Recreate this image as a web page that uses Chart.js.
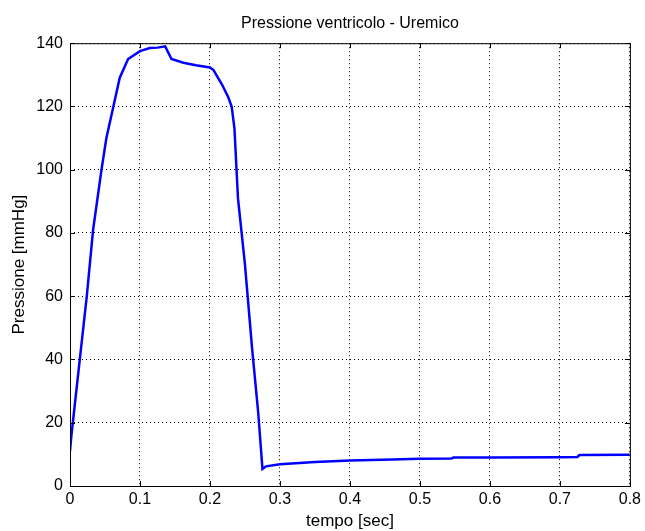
<!DOCTYPE html>
<html>
<head>
<meta charset="utf-8">
<script src="https://cdn.jsdelivr.net/npm/chart.js@4.4.0/dist/chart.umd.min.js"></script>
<style>
  html, body { margin: 0; padding: 0; background: #fff; }
  #wrap { width: 645px; height: 531px; position: relative; }
</style>
</head>
<body>
<div id="wrap"><canvas id="chart"></canvas></div>
<script>
// ventricular pressure
const tempo = [0, 0.002, 0.004, 0.014, 0.024, 0.033, 0.045, 0.052, 0.062, 0.071, 0.083, 0.1, 0.114, 0.125, 0.136, 0.145,
  0.162, 0.18, 0.2, 0.205, 0.217, 0.226, 0.231, 0.235, 0.24, 0.25, 0.26, 0.269, 0.275, 0.28, 0.3, 0.35, 0.4, 0.46,
  0.5, 0.545, 0.548, 0.6, 0.7, 0.725, 0.728, 0.8];
const pressione = [11, 16, 20, 40, 60, 81, 100, 110, 120, 129, 135, 137.5, 138.5, 138.6, 139, 135,
  133.8, 133, 132.3, 131.5, 127, 123, 120, 113, 91, 70, 44, 23, 5.4, 6.2, 6.9, 7.6, 8.1, 8.4,
  8.6, 8.7, 9.0, 9.0, 9.1, 9.2, 9.8, 9.9];
const xTicks = [0, 0.1, 0.2, 0.3, 0.4, 0.5, 0.6, 0.7, 0.8];
const yTicks = [0, 20, 40, 60, 80, 100, 120, 140];

const fam = "'Liberation Sans', Arial, sans-serif";
const tickFont = { family: fam, size: 16 };
const labelFont = { family: fam, size: 17, lineHeight: 1 };

// box around the plot + inward ticks like matlab
const boxPlugin = {
  id: 'box',
  afterDraw(chart) {
    const { ctx, chartArea: a, scales } = chart;
    ctx.save();
    ctx.strokeStyle = '#000';
    ctx.lineWidth = 1;
    ctx.strokeRect(a.left + 0.5, a.top + 0.5, a.right - a.left, a.bottom - a.top);
    ctx.beginPath();
    xTicks.forEach(v => {
      const px = Math.round(scales.x.getPixelForValue(v)) + 0.5;
      ctx.moveTo(px, a.bottom); ctx.lineTo(px, a.bottom - 5);
      ctx.moveTo(px, a.top); ctx.lineTo(px, a.top + 5);
    });
    yTicks.forEach(v => {
      const py = Math.round(scales.y.getPixelForValue(v)) + 0.5;
      ctx.moveTo(a.left, py); ctx.lineTo(a.left + 5, py);
      ctx.moveTo(a.right, py); ctx.lineTo(a.right - 5, py);
    });
    ctx.stroke();
    ctx.restore();
  }
};

new Chart(document.getElementById('chart'), {
  type: 'line',
  data: {
    datasets: [{
      data: tempo.map((t, i) => ({ x: t, y: pressione[i] })),
      borderColor: '#0000ff',
      borderWidth: 2.5,
      pointRadius: 0,
      tension: 0,
      fill: false
    }]
  },
  options: {
    responsive: true,
    maintainAspectRatio: false,
    animation: false,
    layout: { padding: { left: 0, right: 15, top: 0, bottom: 0 } },
    plugins: {
      legend: { display: false },
      tooltip: { enabled: false },
      title: {
        display: true,
        fullSize: false,
        text: 'Pressione ventricolo - Uremico',
        color: '#000',
        font: { family: fam, size: 16, weight: 'normal', lineHeight: 1.2 },
        padding: { top: 14, bottom: 10 }
      }
    },
    scales: {
      x: {
        type: 'linear',
        min: 0,
        max: 0.8,
        afterBuildTicks: s => { s.ticks = xTicks.map(v => ({ value: v })); },
        afterFit: s => { s.height = 45; },
        ticks: { color: '#000', font: tickFont, padding: 4, maxRotation: 0, callback: v => String(v) },
        grid: { color: '#000', drawTicks: false, lineWidth: 1 },
        border: { display: false, dash: [1, 3] },
        title: { display: true, text: 'tempo [sec]', color: '#000', font: labelFont, padding: { top: 0, bottom: 1 } }
      },
      y: {
        min: 0,
        max: 140,
        afterBuildTicks: s => { s.ticks = yTicks.map(v => ({ value: v })); },
        afterFit: s => { s.width = 70; },
        ticks: { color: '#000', font: tickFont, padding: 7 },
        grid: { color: '#000', drawTicks: false, lineWidth: 1 },
        border: { display: false, dash: [1, 3] },
        title: { display: true, text: 'Pressione [mmHg]', color: '#000', font: labelFont, padding: { top: 11, bottom: 0 } }
      }
    }
  },
  plugins: [boxPlugin]
});
</script>
</body>
</html>
